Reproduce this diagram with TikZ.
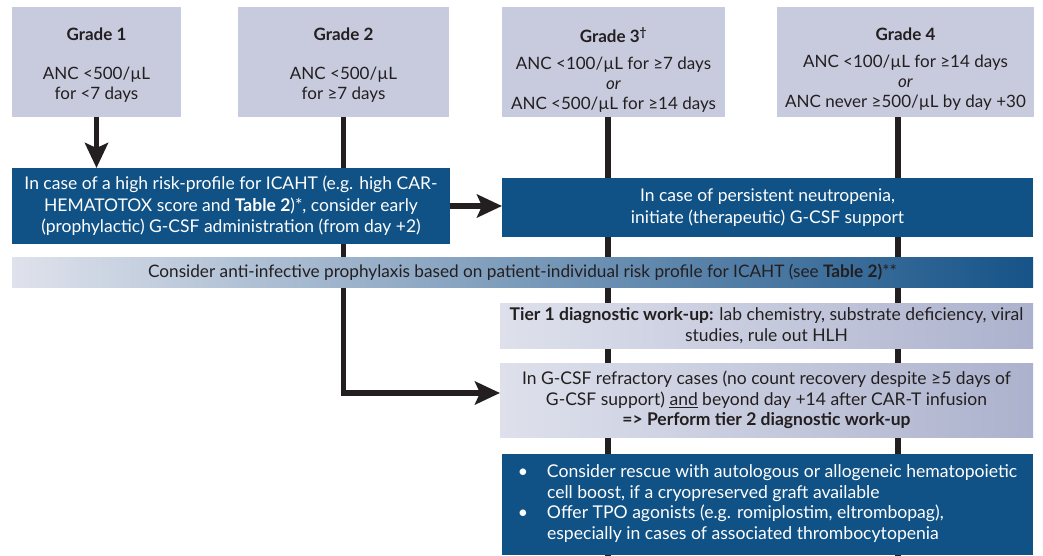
\documentclass[tikz,border=0pt]{standalone}
\usepackage{fontspec}
\setmainfont{Lato}
\usetikzlibrary{arrows.meta,backgrounds}
\definecolor{greybox}{RGB}{200,203,222}
\definecolor{dblue}{RGB}{16,82,134}
\definecolor{ink}{RGB}{35,31,32}
\definecolor{bandL}{RGB}{223,226,236}
\definecolor{bandM}{RGB}{165,172,201}
\definecolor{bandR}{RGB}{22,83,136}
\definecolor{tierL}{RGB}{222,225,236}
\definecolor{tierR}{RGB}{172,178,205}
\begin{document}
\begin{tikzpicture}[x=1pt,y=-1pt,
  every node/.style={inner sep=0pt,outer sep=0pt},
  txt/.style={font=\fontsize{17}{20}\selectfont,align=center,text=ink},
  gradebox/.style={fill=greybox,minimum height=110pt},
  bluebox/.style={fill=dblue,text=white,font=\fontsize{17.5}{21.5}\selectfont,align=center},
  lightbox/.style={left color=tierL,right color=tierR,text=ink,font=\fontsize{17.5}{20.5}\selectfont,align=center},
  conn/.style={draw=ink,line width=5.5pt},
  arr/.style={conn,-{Stealth[length=25pt,width=23pt,inset=5pt]}}]
\useasboundingbox (0,0) rectangle (1043,556);

% grade boxes
\node[gradebox,minimum width=169pt] (g1) at (96.5,62) {};
\node[gradebox,minimum width=211pt] (g2) at (343.5,62) {};
\node[gradebox,minimum width=223pt] (g3) at (613.5,62) {};
\node[gradebox,minimum width=257pt] (g4) at (905.5,62) {};

\node[txt,anchor=north] (g1t) at (96.5,27.5) {\textbf{Grade 1}\\[19pt]ANC <500/µL\\for <7 days};
\node[txt,anchor=north] (g2t) at (343.5,27.5) {\textbf{Grade 2}\\[19pt]ANC <500/µL\\for ≥7 days};
\node[txt,anchor=north] (g3t) at (613.5,27.5) {\textbf{Grade 3\textsuperscript{†}}\\[7pt]ANC <100/µL for ≥7 days\\\textit{or}\\ANC <500/µL for ≥14 days};
\node[txt,anchor=north] (g4t) at (905.5,27.5) {\textbf{Grade 4}\\[7pt]ANC <100/µL for ≥14 days\\\textit{or}\\ANC never ≥500/µL by day +30};

% action boxes
\node[bluebox,minimum width=438pt,minimum height=76pt] (b1) at (231,206)
  {In case of a high risk-profile for ICAHT (e.g. high CAR-\\HEMATOTOX score and \textbf{Table 2})*, consider early\\(prophylactic) G-CSF administration (from day +2)};
\node[bluebox,minimum width=531pt,minimum height=59pt] (b2) at (767.5,207.5)
  {In case of persistent neutropenia,\\initiate (therapeutic) G-CSF support};

\node[left color=bandL,middle color=bandM,right color=bandR,text=ink,
  font=\fontsize{17.2}{18}\selectfont,minimum width=1021pt,minimum height=30pt] (band) at (522.5,272)
  {Consider anti-infective prophylaxis based on patient-individual risk profile for ICAHT (see \textbf{Table 2)}**};

\node[lightbox,minimum width=533pt,minimum height=45pt] (t1) at (766.5,325.5)
  {\textbf{Tier 1 diagnostic work-up:} lab chemistry, substrate deficiency, viral\\studies, rule out HLH};
\node[lightbox,minimum width=533pt,minimum height=74pt] (ref) at (766.5,400)
  {In G-CSF refractory cases (no count recovery despite ≥5 days of\\G-CSF support) \underline{and} beyond day +14 after CAR-T infusion\\\textbf{=> Perform tier 2 diagnostic work-up}};

\node[bluebox,minimum width=531pt,minimum height=101pt,font=\fontsize{17.6}{20.7}\selectfont] (fin) at (767.5,504.5)
  {\begin{tabular}{@{}l@{\hspace{19pt}}l@{}}
   \textbullet & Consider rescue with autologous or allogeneic hematopoietic\\
   & cell boost, if a cryopreserved graft available\\
   \textbullet & Offer TPO agonists (e.g. romiplostim, eltrombopag),\\
   & especially in cases of associated thrombocytopenia
   \end{tabular}};

\coordinate (g3end) at (608,556);
\coordinate (g4end) at (898,556);

\begin{scope}[on background layer]
  \draw[conn] (g3.south -| g3end) -- (g3end);
  \draw[conn] (g4.south -| g4end) -- (g4end);
  \draw[arr] (g2.south) |- ([yshift=7pt]ref.west);
\end{scope}
\draw[arr] (g1.south) -- (g1.south |- b1.north);
\draw[arr] (b1.east) -- (b1.east -| b2.west);
\end{tikzpicture}
\end{document}
